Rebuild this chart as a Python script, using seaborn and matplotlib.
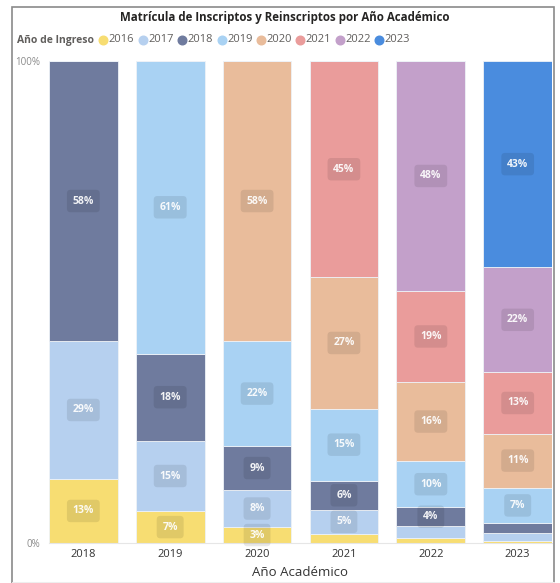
import pandas as pd
import matplotlib
matplotlib.use('Agg')
import matplotlib.pyplot as plt
import seaborn as sns
from matplotlib.patches import Rectangle
from matplotlib.lines import Line2D

# Datos (porcentaje de la matrícula por año de ingreso)
anios_academicos = ['2018', '2019', '2020', '2021', '2022', '2023']
anios_ingreso = ['2016', '2017', '2018', '2019', '2020', '2021', '2022', '2023']
colores = ['#F7DD72', '#B6D0EF', '#6F7B9E', '#A9D2F3',
           '#E9BC9B', '#EA9C9B', '#C3A0CA', '#4A8CDE']

pct_2018 = [13.3, 28.6, 58.1]
pct_2019 = [6.6, 14.6, 18.1, 60.7]
pct_2020 = [3.3, 7.7, 9.1, 21.8, 58.1]
pct_2021 = [1.9, 5.0, 6.0, 15.0, 27.2, 44.9]
pct_2022 = [1.0, 2.5, 3.9, 9.6, 16.4, 18.9, 47.7]
pct_2023 = [0.5, 1.5, 2.1, 7.4, 11.2, 12.7, 21.8, 42.8]

valores = [pct_2018, pct_2019, pct_2020, pct_2021, pct_2022, pct_2023]

filas = []
for i, (anio, serie) in enumerate(zip(anios_academicos, valores)):
    for ingreso, v in zip(anios_ingreso, serie):
        filas.append({'x': i, 'academico': anio, 'ingreso': ingreso, 'pct': v})
df = pd.DataFrame(filas)

paleta = dict(zip(anios_ingreso, colores))

sns.set_theme(style='white')
plt.rcParams['font.family'] = ['Open Sans', 'DejaVu Sans']

fig = plt.figure(figsize=(5.6, 5.83), dpi=100)
ax = fig.add_axes([49 / 560, 40 / 583, 503 / 560, 482 / 583])

# seaborn apila el primer nivel arriba, por eso el orden invertido
sns.histplot(data=df, x='x', weights='pct', hue='ingreso',
             hue_order=anios_ingreso[::-1], palette=paleta,
             multiple='stack', discrete=True, shrink=0.79,
             alpha=1, edgecolor='#eef2f7', linewidth=0.6,
             legend=False, ax=ax)

# Etiquetas de porcentaje
for i, serie in enumerate(valores):
    base = 0
    for v in serie:
        if v >= 3:
            ax.text(i, base + v / 2, f'{round(v)}%', ha='center', va='center',
                    fontsize=7.5, fontweight='bold', color='white', alpha=0.92,
                    bbox=dict(boxstyle='round,pad=0.55,rounding_size=0.35',
                              facecolor='black', alpha=0.09, edgecolor='none'))
        base += v

ax.set_xlim(-0.395, 5.395)
ax.set_ylim(0, 100)
ax.set_xticks(range(len(anios_academicos)))
ax.set_xticklabels(anios_academicos, fontsize=8, color='#333333')
ax.set_yticks([0, 100])
ax.set_yticklabels(['0%', '100%'], fontsize=7, color='#8a8a8a')
ax.tick_params(axis='both', length=0)
ax.tick_params(axis='y', pad=6.5)
ax.tick_params(axis='x', pad=4)
ax.set_ylabel('')
ax.set_xlabel('Año Académico', fontsize=9.5, color='#333333', labelpad=5)
for s in ['top', 'right', 'left']:
    ax.spines[s].set_visible(False)
ax.spines['bottom'].set_color('#e6e6e6')
ax.spines['bottom'].set_linewidth(0.8)

# Título
fig.text(0.508, 1 - 17 / 583, 'Matrícula de Inscriptos y Reinscriptos por Año Académico',
         ha='center', va='center', fontsize=8.3, fontweight='bold', color='#252423')

# Leyenda manual
fig.canvas.draw()
renderer = fig.canvas.get_renderer()
y_leg = 1 - 40 / 583
t = fig.text(17 / 560, y_leg, 'Año de Ingreso', ha='left', va='center',
             fontsize=7.5, fontweight='bold', color='#605E5C')
bb = t.get_window_extent(renderer)
x = bb.x1 + 9
for ingreso, c in zip(anios_ingreso, colores):
    fig.add_artist(Line2D([x / 560], [y_leg], marker='o', markersize=6.2,
                          color=c, linestyle='none', transform=fig.transFigure))
    tt = fig.text((x + 5.5) / 560, y_leg, ingreso, ha='left', va='center',
                  fontsize=8, color='#605E5C')
    bbt = tt.get_window_extent(renderer)
    x = bbt.x1 + 8.5

# Marco (el borde inferior queda fuera de la imagen)
fig.add_artist(Rectangle((12 / 560, -0.02), 542 / 560, 1.02 - 7 / 583,
                         transform=fig.transFigure, fill=False,
                         edgecolor='#8a8a8a', linewidth=1.2))
fig.add_artist(Line2D([12 / 560, 554 / 560], [1.5 / 583, 1.5 / 583],
                      color='#eeeeee', linewidth=0.8, transform=fig.transFigure))

fig.savefig('out.png', dpi=100)
